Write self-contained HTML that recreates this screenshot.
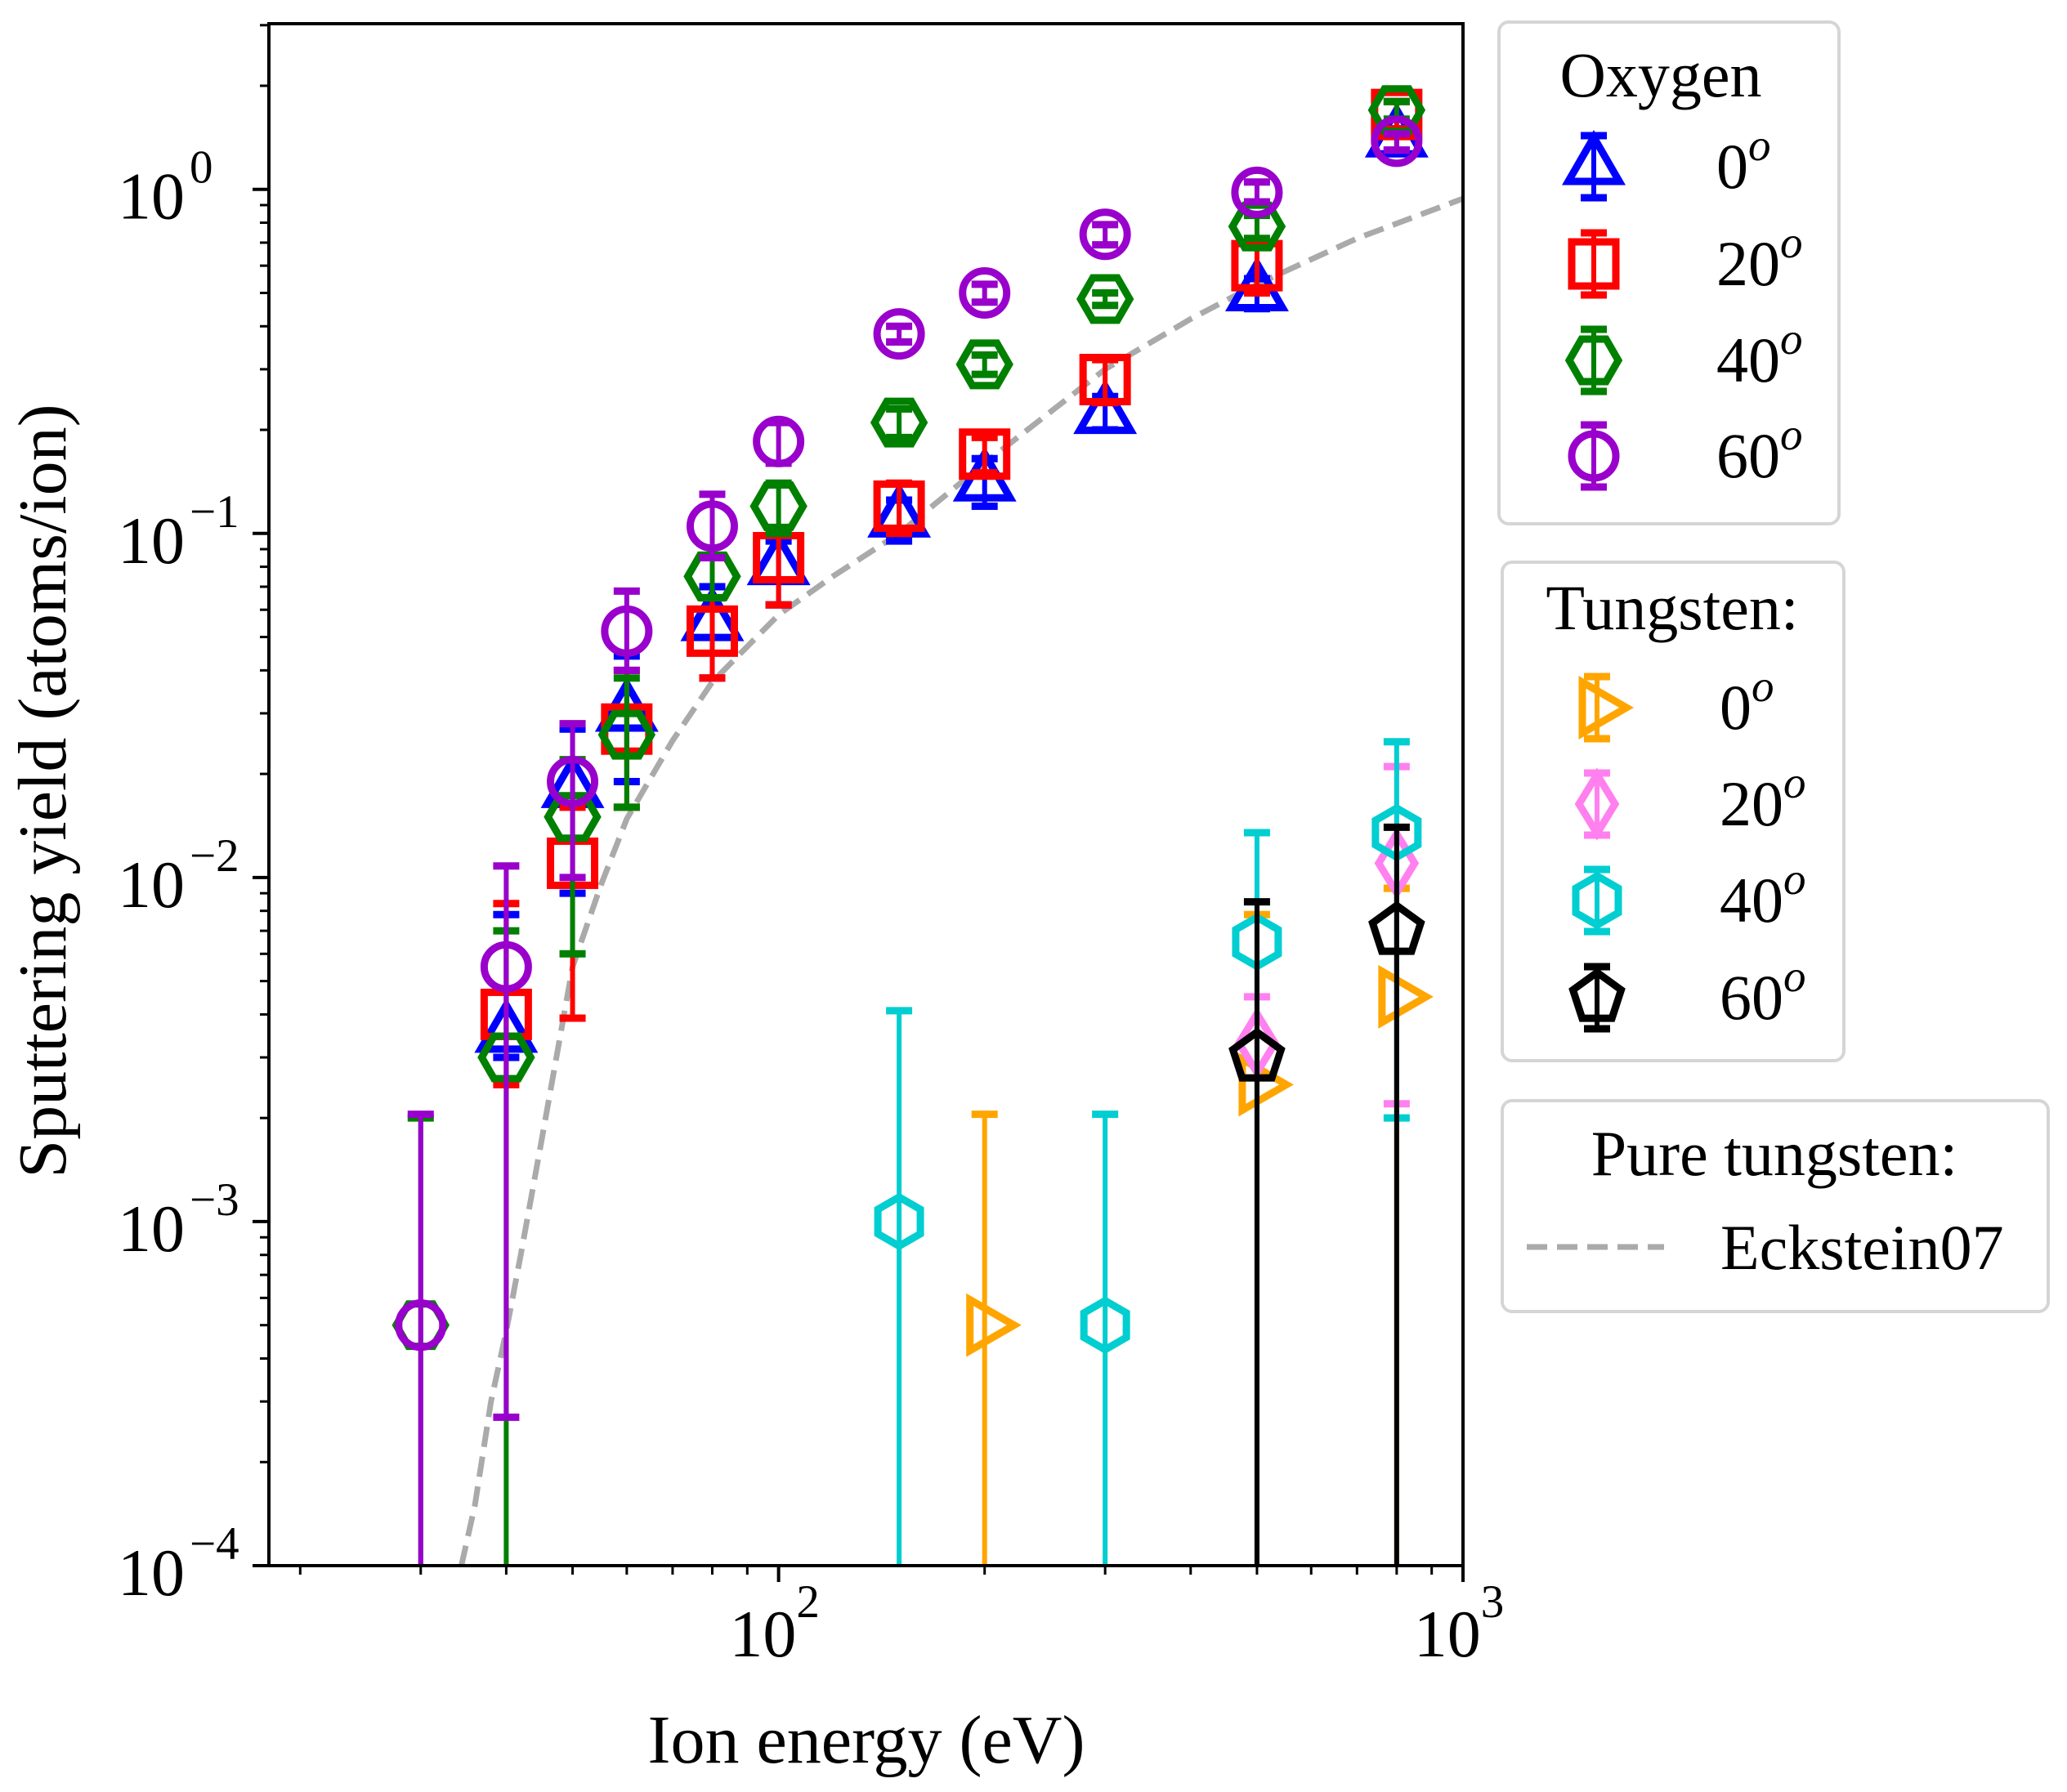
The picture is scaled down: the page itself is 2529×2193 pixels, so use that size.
<!DOCTYPE html>
<html><head><meta charset="utf-8"><style>
html,body{margin:0;padding:0;background:#fff;overflow:hidden;width:2529px;height:2193px;}
svg{display:block;font-family:"Liberation Serif","DejaVu Serif",serif;}
</style></head><body>
<svg id="chart" xmlns="http://www.w3.org/2000/svg" width="2529" height="2193" viewBox="0 0 2529 2193">
<rect x="0" y="0" width="2529" height="2193" fill="#fff"/>
<g id="plot"></g>
<g id="axes"></g>
<g id="legends"></g>
</svg>
<script>
// ---- data ----
const energies = [30, 40, 50, 60, 80, 100, 150, 200, 300, 500, 800];
const oxy0E = [40, 50, 60, 80, 100, 150, 200, 300, 500, 800];
const oxy0Y = [0.0035, 0.018, 0.030, 0.055, 0.080, 0.11, 0.14, 0.22, 0.50, 1.40];
const oxy0Lo = [0.0030, 0.009, 0.019, 0.038, 0.062, 0.095, 0.12, 0.20, 0.45, 1.30];
const oxy0Hi = [0.0078, 0.027, 0.044, 0.070, 0.095, 0.125, 0.165, 0.25, 0.55, 1.50];
const oxy20E = [40, 50, 60, 80, 100, 150, 200, 300, 500, 800];
const oxy20Y = [0.0040, 0.011, 0.027, 0.052, 0.085, 0.12, 0.17, 0.28, 0.60, 1.65];
const oxy20Lo = [0.0025, 0.0039, 0.016, 0.038, 0.062, 0.10, 0.15, 0.24, 0.50, 1.50];
const oxy20Hi = [0.0084, 0.016, 0.040, 0.065, 0.10, 0.14, 0.19, 0.32, 0.70, 1.80];
const oxy40E = [30, 40, 50, 60, 80, 100, 150, 200, 300, 500, 800];
const oxy40Y = [0.0005, 0.0030, 0.015, 0.026, 0.075, 0.12, 0.21, 0.31, 0.48, 0.78, 1.70];
const oxy40Lo = [0.00001, 0.00001, 0.006, 0.016, 0.065, 0.10, 0.19, 0.29, 0.46, 0.72, 1.60];
const oxy40Hi = [0.0020, 0.0070, 0.022, 0.038, 0.085, 0.14, 0.23, 0.33, 0.50, 0.84, 1.80];
const oxy60E = [30, 40, 50, 60, 80, 100, 150, 200, 300, 500, 800];
const oxy60Y = [0.0005, 0.0055, 0.019, 0.052, 0.105, 0.185, 0.38, 0.50, 0.74, 0.98, 1.38];
const oxy60Lo = [0.00001, 0.00027, 0.010, 0.040, 0.085, 0.16, 0.36, 0.47, 0.69, 0.92, 1.30];
const oxy60Hi = [0.00205, 0.0108, 0.028, 0.068, 0.13, 0.21, 0.40, 0.53, 0.79, 1.05, 1.45];
const w0E = [200, 500, 800];
const w0Y = [0.0005, 0.0025, 0.0045];
const w0Lo = [0.00001, 0.00001, 0.00001];
const w0Hi = [0.00205, 0.0078, 0.0093];
const w20E = [500, 800];
const w20Y = [0.0033, 0.011];
const w20Lo = [0.00001, 0.0022];
const w20Hi = [0.0045, 0.021];
const w40E = [150, 300, 500, 800];
const w40Y = [0.0010, 0.0005, 0.0065, 0.0135];
const w40Lo = [0.00001, 0.00001, 0.00001, 0.0020];
const w40Hi = [0.0041, 0.00205, 0.0135, 0.0248];
const w60E = [500, 800];
const w60Y = [0.0030, 0.0070];
const w60Lo = [0.00001, 0.00001];
const w60Hi = [0.0085, 0.014];
const ecksE = [34.4, 36, 38, 40, 42, 45, 50, 55, 60, 70, 80, 100, 120, 150, 200, 300, 400, 500, 700, 1000];
const ecksY = [0.0001, 0.00015, 0.0003, 0.00048, 0.0008, 0.0017, 0.0055, 0.0095, 0.0148, 0.025, 0.037, 0.058, 0.075, 0.10, 0.16, 0.30, 0.42, 0.53, 0.72, 0.94];
const xTickVals = [100, 1000];
const xTickLabels = ["2", "3"];
const yTickVals = [1, 0.1, 0.01, 0.001, 0.0001];
const yTickLabels = ["0", "\u22121", "\u22122", "\u22123", "\u22124"];

// ---- axes geometry ----
const L = 329, R = 1790, T = 29, B = 1916;
const xMin = 18, xMax = 1000, yMin = 1e-4, yMax = 3.03;
function xs(v){ return L + (Math.log10(v) - Math.log10(xMin)) / (Math.log10(xMax) - Math.log10(xMin)) * (R - L); }
function ys(v){ return B - (Math.log10(v) - Math.log10(yMin)) / (Math.log10(yMax) - Math.log10(yMin)) * (B - T); }

const NS = "http://www.w3.org/2000/svg";
function mk(tag, attrs, parent){
  const e = document.createElementNS(NS, tag);
  for (const k in attrs) e.setAttribute(k, attrs[k]);
  if (parent) parent.appendChild(e);
  return e;
}

function poly(n, r, rot){
  const pts = [];
  for (let i = 0; i < n; i++){ const a = rot + i * 2 * Math.PI / n; pts.push((r*Math.cos(a)).toFixed(2) + "," + (r*Math.sin(a)).toFixed(2)); }
  return pts.join(" ");
}
function drawMarker(g, shape, cx, cy, color){
  let el;
  const sw = 9;
  if (shape === "^") el = mk("polygon", {points: poly(3, 36, -Math.PI/2)}, g);
  else if (shape === ">") el = mk("polygon", {points: poly(3, 36, 0)}, g);
  else if (shape === "s") el = mk("rect", {x: -27, y: -27, width: 54, height: 54}, g);
  else if (shape === "H") el = mk("polygon", {points: poly(6, 30, 0)}, g);
  else if (shape === "h") el = mk("polygon", {points: poly(6, 30, Math.PI/2)}, g);
  else if (shape === "o") el = mk("circle", {cx: 0, cy: 0, r: 27}, g);
  else if (shape === "d") el = mk("polygon", {points: "0,-36 22,0 0,36 -22,0"}, g);
  else if (shape === "p") el = mk("polygon", {points: poly(5, 31, -Math.PI/2)}, g);
  el.setAttribute("transform", "translate(" + cx.toFixed(2) + "," + cy.toFixed(2) + ")");
  el.setAttribute("fill", "none");
  el.setAttribute("stroke", color);
  el.setAttribute("stroke-width", sw);
  el.setAttribute("stroke-linejoin", "miter");
  return el;
}

const plot = document.getElementById("plot");
const clip = mk("clipPath", {id: "clipAx"}, mk("defs", {}, document.getElementById("chart")));
mk("rect", {x: L, y: T, width: R - L, height: B - T}, clip);
plot.setAttribute("clip-path", "url(#clipAx)");

let d = "";
ecksE.forEach((e, i) => { d += (i ? "L" : "M") + xs(e).toFixed(2) + "," + ys(ecksY[i]).toFixed(2); });
const curve = mk("path", {d: d, fill: "none", stroke: "#aaaaaa", "stroke-width": 7, "stroke-dasharray": "25,12"}, plot);



const seriesList = [
  {name: "oxygen-0deg", E: oxy0E, Y: oxy0Y, lo: oxy0Lo, hi: oxy0Hi, color: "#0000ff", shape: "^"},
  {name: "oxygen-20deg", E: oxy20E, Y: oxy20Y, lo: oxy20Lo, hi: oxy20Hi, color: "#ff0000", shape: "s"},
  {name: "oxygen-40deg", E: oxy40E, Y: oxy40Y, lo: oxy40Lo, hi: oxy40Hi, color: "#008000", shape: "H"},
  {name: "oxygen-60deg", E: oxy60E, Y: oxy60Y, lo: oxy60Lo, hi: oxy60Hi, color: "#9900cc", shape: "o"},
  {name: "tungsten-0deg", E: w0E, Y: w0Y, lo: w0Lo, hi: w0Hi, color: "#ffa500", shape: ">"},
  {name: "tungsten-20deg", E: w20E, Y: w20Y, lo: w20Lo, hi: w20Hi, color: "#ff80ee", shape: "d"},
  {name: "tungsten-40deg", E: w40E, Y: w40Y, lo: w40Lo, hi: w40Hi, color: "#00ced1", shape: "h"},
  {name: "tungsten-60deg", E: w60E, Y: w60Y, lo: w60Lo, hi: w60Hi, color: "#000000", shape: "p"}
];

function drawErr(g, cx, yTop, yBot, color){
  mk("line", {x1: cx, x2: cx, y1: yTop, y2: yBot, stroke: color, "stroke-width": 6}, g);
  mk("line", {x1: cx - 16, x2: cx + 16, y1: yTop, y2: yTop, stroke: color, "stroke-width": 9}, g);
  mk("line", {x1: cx - 16, x2: cx + 16, y1: yBot, y2: yBot, stroke: color, "stroke-width": 9}, g);
}

seriesList.forEach(s => {
  const g = mk("g", {}, plot);
  
  
  s.E.forEach((e, i) => {
    const cx = xs(e);
    const pg = mk("g", {}, g);
    
    
    drawErr(pg, cx, ys(s.hi[i]), ys(s.lo[i]), s.color);
    drawMarker(pg, s.shape, cx, ys(s.Y[i]), s.color);
  });
});

// ---- axes ----
const axes = document.getElementById("axes");
const frame = mk("rect", {x: L, y: T, width: R - L, height: B - T, fill: "none", stroke: "#000", "stroke-width": 4}, axes);



for (let dec = 10; dec <= 1000; dec *= 10){
  for (let m = 1; m <= 9; m++){
    const v = dec * m;
    if (v < xMin || v > xMax) continue;
    const x = xs(v), major = (m === 1);
    mk("line", {x1: x, x2: x, y1: B, y2: B + (major ? 20 : 11), stroke: "#000", "stroke-width": major ? 4 : 3}, axes);
  }
}
xTickVals.forEach((v, i) => {
  const t = mk("text", {x: xs(v) - 5, y: 2027, "text-anchor": "middle", "font-size": 82}, axes);
  
  
  t.textContent = "10";
  const sup = mk("tspan", {dy: -48, "font-size": 57}, t);
  sup.textContent = xTickLabels[i];
});
for (let dec = 1e-4; dec <= 1.1; dec *= 10){
  for (let m = 1; m <= 9; m++){
    const v = dec * m;
    if (v < yMin * 0.999 || v > yMax) continue;
    const y = ys(v), major = (m === 1);
    mk("line", {x1: L, x2: L - (major ? 20 : 11), y1: y, y2: y, stroke: "#000", "stroke-width": major ? 4 : 3}, axes);
  }
}
yTickVals.forEach((v, i) => {
  const y = ys(v);
  const t = mk("text", {x: 226, y: y + 36, "text-anchor": "end", "font-size": 82}, axes);
  
  
  t.textContent = "10";
  const e = mk("text", {x: 232, y: y - 8, "text-anchor": "start", "font-size": 57}, axes);
  
  
  e.textContent = yTickLabels[i];
});
const xl = mk("text", {x: 1060, y: 2157, "text-anchor": "middle", "font-size": 84}, axes);


xl.textContent = "Ion energy (eV)";
const yl = mk("text", {x: 0, y: 0, "text-anchor": "middle", "font-size": 84, transform: "translate(80,968) rotate(-90)"}, axes);


yl.textContent = "Sputtering yield (atoms/ion)";

// ---- legends ----
const lg = document.getElementById("legends");
function box(x, y, w, h, name){
  const r = mk("rect", {x: x, y: y, width: w, height: h, rx: 12, fill: "#fff", stroke: "#d5d5d5", "stroke-width": 4}, lg);
  
  
}
function title(x, y, txt, name){
  const t = mk("text", {x: x, y: y, "text-anchor": "middle", "font-size": 78}, lg);
  
  
  t.textContent = txt;
}
function entry(mx, tx, cy, s, label){
  const g = mk("g", {}, lg);
  
  
  drawErr(g, mx, cy - 38, cy + 38, s.color);
  drawMarker(g, s.shape, mx, cy, s.color);
  const t = mk("text", {x: tx, y: cy + 26, "font-size": 78}, g);
  t.textContent = label;
  const o = mk("tspan", {dy: -34, "font-size": 55, "font-style": "italic"}, t);
  o.textContent = "o";
}
box(1834, 27, 416, 614, "oxygen-legend");
title(2032, 118, "Oxygen", "oxygen-legend-title");
const oLab = ["0", "20", "40", "60"];
const oY = [204, 323, 441, 558];
for (let i = 0; i < 4; i++) entry(1950, 2100, oY[i], seriesList[i], oLab[i]);

box(1838, 688, 418, 610, "tungsten-legend");
title(2046, 770, "Tungsten:", "tungsten-legend-title");
const wY = [866, 984, 1102, 1221];
for (let i = 0; i < 4; i++) entry(1954, 2104, wY[i], seriesList[4 + i], oLab[i]);

box(1838, 1347, 668, 258, "pure-tungsten-legend");
title(2171, 1438, "Pure tungsten:", "pure-tungsten-legend-title");
const eg = mk("g", {}, lg);


mk("line", {x1: 1868, x2: 2036, y1: 1526, y2: 1526, stroke: "#aaaaaa", "stroke-width": 7, "stroke-dasharray": "25,12"}, eg);
const et = mk("text", {x: 2105, y: 1553, "font-size": 78}, eg);
et.textContent = "Eckstein07";
</script>
</body></html>
